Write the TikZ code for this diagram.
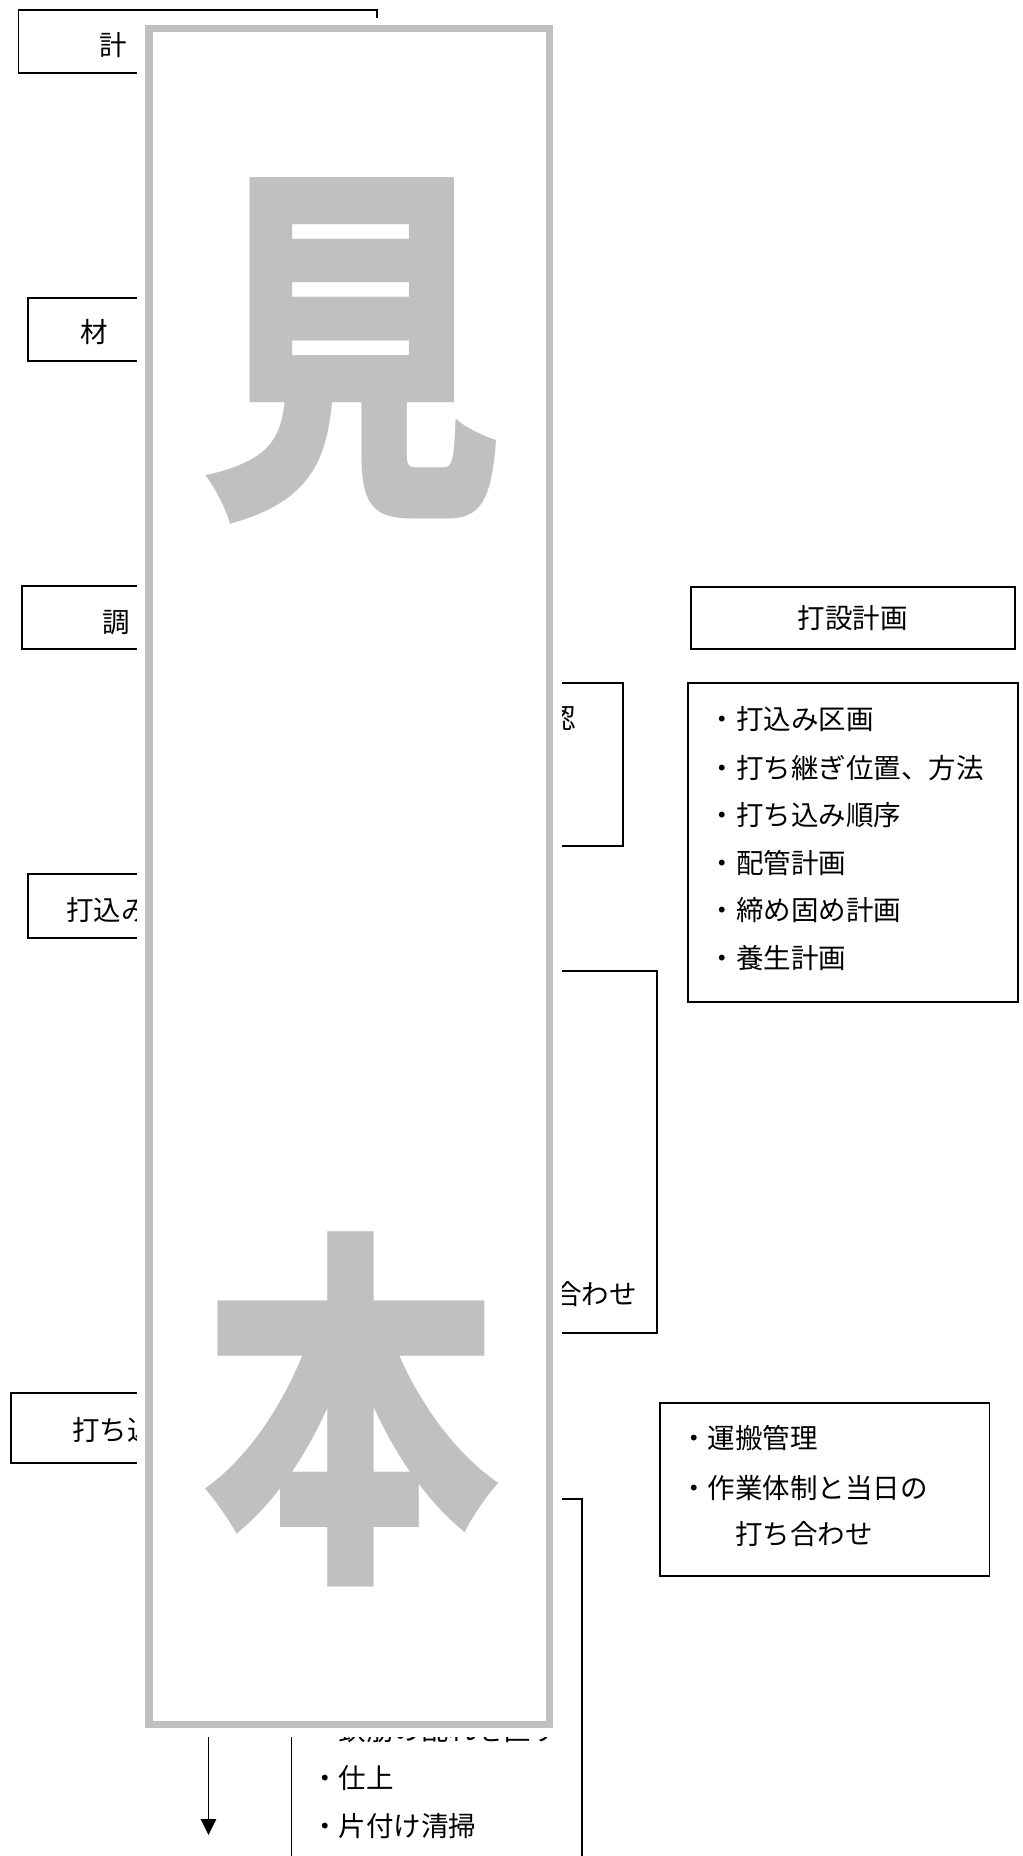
\documentclass[tikz,border=0pt]{standalone}
\usepackage{fontspec}
\usepackage{graphicx}
\newfontfamily\jp{Noto Sans CJK JP}
\usetikzlibrary{arrows.meta}
\definecolor{wmgray}{RGB}{192,192,192}
\begin{document}
\begin{tikzpicture}[x=0.5pt,y=-0.5pt,
  boxline/.style={draw=black, line width=0.85pt},
  txt/.style={font=\jp\fontsize{13.75pt}{16pt}\selectfont, inner sep=0pt},
  bigch/.style={font=\jp\bfseries\fontsize{187pt}{190pt}\selectfont, text=wmgray, inner sep=0pt, text height=164.6pt, text depth=22.4pt},
  flow/.style={line width=0.6pt, -{Triangle[length=8pt,width=7.8pt]}}]
\useasboundingbox (0,0) rectangle (1022,1856);
\clip (0,0) rectangle (1022,1856);
% left column boxes
\draw[boxline] (18.4,10) rectangle (377,73);
\draw[boxline] (28,298) rectangle (367.4,361);
\draw[boxline] (21.8,586) rectangle (373.6,649.3);
\draw[boxline] (28,874.3) rectangle (367,937.7);
\node[boxline, rectangle, inner sep=0pt, minimum width=197.5pt, minimum height=34.7pt] (uc) at (208.5,1428) {};
\node[txt, anchor=base] (t1) at (113.3,55.5) {計};
\node[txt, anchor=base] (t2) at (94.5,343) {材};
\node[txt, anchor=base] (t3) at (116.4,632.5) {調};
\node[txt, anchor=base west] (t4) at (66,920.5) {打込み};
\node[txt, anchor=base west] (t5) at (72,1440.5) {打ち込};
% middle boxes
\draw[boxline] (290,682.7) rectangle (622.7,846);
\node[txt, anchor=base east] (t6) at (576,728.5) {認};
\draw[boxline] (290,970.7) rectangle (657,1332.7);
\node[txt, anchor=base east] (t7) at (637,1304.5) {合わせ};
\draw[boxline] (291.6,1880) -- (291.6,1499) -- (582,1499) -- (582,1880);
\node[txt, anchor=base west] (m0) at (311,1740) {・鉄筋の乱れを直す};
\node[txt, anchor=base west] (m1) at (311,1788.8) {・仕上};
\node[txt, anchor=base west] (m2) at (311,1836.3) {・片付け清掃};
% right boxes
\node[boxline, rectangle, inner sep=0pt, minimum width=162.15pt, minimum height=31.3pt, txt] (plan) at (852.85,618) {打設計画};
\draw[boxline] (687.7,682.7) rectangle (1018.3,1001.7);
\node[txt, anchor=base west] (p1) at (708.5,729.6) {・打込み区画};
\node[txt, anchor=base west] (p2) at (708.5,778.7) {・打ち継ぎ位置、方法};
\node[txt, anchor=base west] (p3) at (708.5,825.5) {・打ち込み順序};
\node[txt, anchor=base west] (p4) at (708.5,873.7) {・配管計画};
\node[txt, anchor=base west] (p5) at (708.5,920.5) {・締め固め計画};
\node[txt, anchor=base west] (p6) at (708.5,968.7) {・養生計画};
\draw[boxline] (659.7,1402.7) rectangle (989.6,1576);
\node[txt, anchor=base west] (r1) at (680,1448.8) {・運搬管理};
\node[txt, anchor=base west] (r2) at (680,1498) {・作業体制と当日の};
\node[txt, anchor=base west] (r3) at (735,1544.5) {打ち合わせ};
% arrow
\coordinate (aend) at (208.5,1835);
\draw[flow] (uc.south) -- (aend);
% watermark
\fill[white] (136.5,18) rectangle (562,1736.5);
\draw[wmgray, line width=3.75pt] (148.75,28.75) rectangle (549.55,1724.55);
\node[bigch] (w1) at (350.5,344) {\scalebox{0.815}[1]{見}};
\node[bigch] (w2) at (351,1409) {\scalebox{0.8}[1]{本}};
\end{tikzpicture}
\end{document}
